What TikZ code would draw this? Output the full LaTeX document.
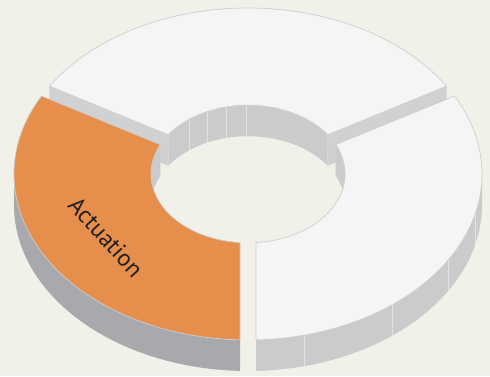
\documentclass[tikz,border=0pt]{standalone}
\usepackage{fontspec}
\setsansfont{PT Sans}
\definecolor{paper}{RGB}{242,241,233}
\definecolor{slab}{RGB}{245,245,245}
\definecolor{actorange}{RGB}{230,143,76}
\definecolor{rimline}{RGB}{204,205,207}
\definecolor{wallgray}{RGB}{202,203,205}
\definecolor{darkwall}{RGB}{168,169,173}
\definecolor{endgray}{RGB}{208,209,211}
\definecolor{inkdark}{RGB}{35,31,32}
\tikzset{
    topface/.style={fill=slab,draw=rimline,line width=0.7pt,line join=round},
    hotface/.style={fill=actorange,draw=rimline,line width=0.7pt,line join=round},
    wall/.style={fill=wallgray,draw=none},
    shadewall/.style={fill=darkwall,draw=none},
    capface/.style={fill=endgray,draw=none},
    seam/.style={draw=white,opacity=0.45,line width=0.5pt},
    ringlabel/.style={font=\sffamily\fontsize{24}{24}\selectfont,text=inkdark}
}
\newcommand{\ro}{234}   % outer radius
\newcommand{\ri}{97}    % inner radius
\newcommand{\dep}{43.7} % slab height (plane units)
\newcommand{\go}{1.96}  % gap angle, outer rim
\newcommand{\gi}{4.73}  % gap angle, inner rim

\begin{document}
\begin{tikzpicture}[x=1pt,y=1pt]
    % Paper
    \fill[paper] (0,0) rectangle (490,376);
    \useasboundingbox (0,0) rectangle (490,376);
    \begin{scope}[shift={(248,202)},yscale=0.7094]
    % Back slab (30 to 150)
    \fill[wall] (30+\gi:\ri) arc[start angle=30+\gi,end angle=150-\gi,radius=\ri]
        -- ++(0,-\dep) arc[start angle=150-\gi,end angle=30+\gi,radius=\ri] -- cycle;
    \foreach \t in {91,103,115,127}
        \draw[seam] (\t:\ri) -- ++(0,-\dep);
    \path (150-\go:\ro) coordinate (lo) ++(0,-\dep) coordinate (lob)
          (150-\gi:\ri) coordinate (li) ++(0,-\dep) coordinate (lib)
          (30+\go:\ro) coordinate (ro) ++(0,-\dep) coordinate (rob)
          (30+\gi:\ri) coordinate (ri) ++(0,-\dep) coordinate (rib);
    \fill[capface] (lo) -- (li) -- (lib) -- (lob) -- cycle;
    \fill[capface] (ro) -- (ri) -- (rib) -- (rob) -- cycle;
    \filldraw[topface] (30+\go:\ro) arc[start angle=30+\go,end angle=150-\go,radius=\ro]
        -- (150-\gi:\ri) arc[start angle=150-\gi,end angle=30+\gi,radius=\ri] -- cycle;
    % Actuation slab (150 to 270)
    \fill[wall] (150+\gi:\ri) arc[start angle=150+\gi,end angle=180,radius=\ri]
        -- ++(0,-\dep) arc[start angle=180,end angle=150+\gi,radius=\ri] -- cycle;
    \fill[shadewall] (180:\ro) arc[start angle=180,end angle=270-\go,radius=\ro]
        -- ++(0,-\dep) arc[start angle=270-\go,end angle=180,radius=\ro] -- cycle;
    \filldraw[hotface] (150+\go:\ro) arc[start angle=150+\go,end angle=270-\go,radius=\ro]
        -- (270-\gi:\ri) arc[start angle=270-\gi,end angle=150+\gi,radius=\ri] -- cycle;
    % Right slab (270 to 390)
    \fill[wall] (0:\ri) arc[start angle=0,end angle=30-\gi,radius=\ri]
        -- ++(0,-\dep) arc[start angle=30-\gi,end angle=0,radius=\ri] -- cycle;
    \fill[wall] (270+\go:\ro) arc[start angle=270+\go,end angle=360,radius=\ro]
        -- ++(0,-\dep) arc[start angle=360,end angle=270+\go,radius=\ro] -- cycle;
    \foreach \t in {284,308,329,346}
        \draw[seam] (\t:\ro) -- ++(0,-\dep);
    \filldraw[topface] (270+\go:\ro) arc[start angle=270+\go,end angle=390-\go,radius=\ro]
        -- (390-\gi:\ri) arc[start angle=390-\gi,end angle=270+\gi,radius=\ri] -- cycle;
    \end{scope}
    % Label
    \node[ringlabel,rotate=-48] (act) at (106,139) {Actuation};
\end{tikzpicture}
\end{document}
